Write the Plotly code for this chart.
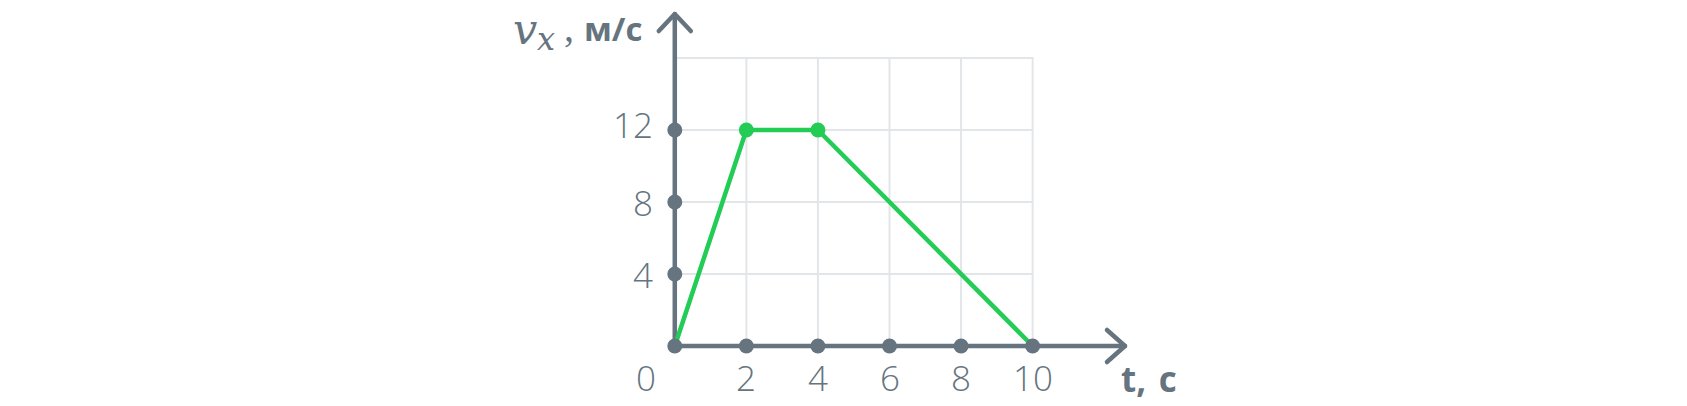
import plotly.graph_objects as go

# ---- data ----
t_points = [0, 2, 4, 10]
v_points = [0, 12, 12, 0]
marked_t = [2, 4]
marked_v = [12, 12]
x_ticks = [0, 2, 4, 6, 8, 10]
x_tick_labels = ["0", "2", "4", "6", "8", "10"]
y_ticks = [4, 8, 12]
y_tick_labels = ["4", "8", "12"]
grid_x = [2, 4, 6, 8, 10]
grid_y = [4, 8, 12, 16]
grid_x_max = 10
grid_y_max = 16
x_axis_end = 12.58
y_axis_end = 18.44

# ---- style ----
GRAY = "#65747e"
GREEN = "#22cc55"
GRID = "#e3e6e9"
W, H = 1687, 406
ML, MR, MT, MB = 639, 547, 4, 24
XR = [-1, 13]
YR = [-2, 19]
pxx = (W - ML - MR) / (XR[1] - XR[0])
pxy = (H - MT - MB) / (YR[1] - YR[0])
y_label_lift = [0, 0, 6]  # pixel lift of each y tick label

fig = go.Figure()

# grid
gx, gy = [], []
for g in grid_x:
    gx += [g, g, None]
    gy += [0, grid_y_max, None]
for g in grid_y:
    gx += [0, grid_x_max, None]
    gy += [g, g, None]
fig.add_trace(go.Scatter(x=gx, y=gy, mode="lines", line=dict(color=GRID, width=2),
                         hoverinfo="skip", showlegend=False))

# axes with chevron arrows
ax = 16 / pxx
ay = 17 / pxy
axx = [0, x_axis_end, None, x_axis_end - 18 / pxx, x_axis_end, x_axis_end - 18 / pxx, None,
       0, 0, None, -ax, 0, ax]
axy = [0, 0, None, 16 / pxy, 0, -16 / pxy, None,
       0, y_axis_end, None, y_axis_end - ay, y_axis_end, y_axis_end - ay]
fig.add_trace(go.Scatter(x=axx, y=axy, mode="lines", line=dict(color=GRAY, width=4.5),
                         hoverinfo="skip", showlegend=False, cliponaxis=False))

# data line
fig.add_trace(go.Scatter(x=t_points, y=v_points, mode="lines", line=dict(color=GREEN, width=4.5),
                         showlegend=False, cliponaxis=False))
fig.add_trace(go.Scatter(x=marked_t, y=marked_v, mode="markers",
                         marker=dict(color=GREEN, size=15), showlegend=False))

# tick dots
fig.add_trace(go.Scatter(x=x_ticks + [0] * len(y_ticks), y=[0] * len(x_ticks) + y_ticks,
                         mode="markers", marker=dict(color=GRAY, size=15),
                         showlegend=False, cliponaxis=False))

tick_font = dict(family="Open Sans", size=35, color=GRAY, weight=300)
ann = []
for t, lab in zip(x_ticks, x_tick_labels):
    ann.append(dict(x=t, y=0, text=lab, showarrow=False, xanchor="center", yanchor="middle",
                    xshift=-29 if t == 0 else 0, yshift=-31, font=tick_font))
for v, lab, lift in zip(y_ticks, y_tick_labels, y_label_lift):
    ann.append(dict(x=0, y=v, text=lab, showarrow=False, xanchor="right", yanchor="middle",
                    xshift=-20, yshift=lift, font=tick_font))

# axis titles
ann.append(dict(x=0, y=0, text="<b>t, \u200aс</b>", showarrow=False, xanchor="left", yanchor="middle",
                xshift=444, yshift=-32,
                font=dict(family="Open Sans", size=35, color=GRAY)))
ann.append(dict(x=0, y=0, text="<i>v</i>", showarrow=False,
                xanchor="right", yanchor="middle", xshift=-136, yshift=317,
                font=dict(family="DejaVu Serif", size=43, color=GRAY)))
ann.append(dict(x=0, y=0, text="<i>x</i>", showarrow=False,
                xanchor="left", yanchor="middle", xshift=-140, yshift=307,
                font=dict(family="DejaVu Serif", size=32, color=GRAY)))
ann.append(dict(x=0, y=0, text=",", showarrow=False,
                xanchor="left", yanchor="middle", xshift=-113, yshift=319,
                font=dict(family="Liberation Serif", size=40, color=GRAY)))
ann.append(dict(x=0, y=0, text="<b>м/с</b>", showarrow=False,
                xanchor="left", yanchor="middle", xshift=-93, yshift=318,
                font=dict(family="Open Sans", size=33, color=GRAY)))

fig.update_layout(
    width=W, height=H,
    margin=dict(l=ML, r=MR, t=MT, b=MB),
    paper_bgcolor="white", plot_bgcolor="white",
    xaxis=dict(range=XR, visible=False, fixedrange=True),
    yaxis=dict(range=YR, visible=False, fixedrange=True),
    annotations=ann,
)

post = (
    "document.body.style.margin='0';"
    "var st=document.createElement('style');"
    "st.textContent='.js-line{stroke-linecap:round;stroke-linejoin:round}';"
    "document.head.appendChild(st);"
)
fig.write_html("out.html", post_script=post, config={"displayModeBar": False})
